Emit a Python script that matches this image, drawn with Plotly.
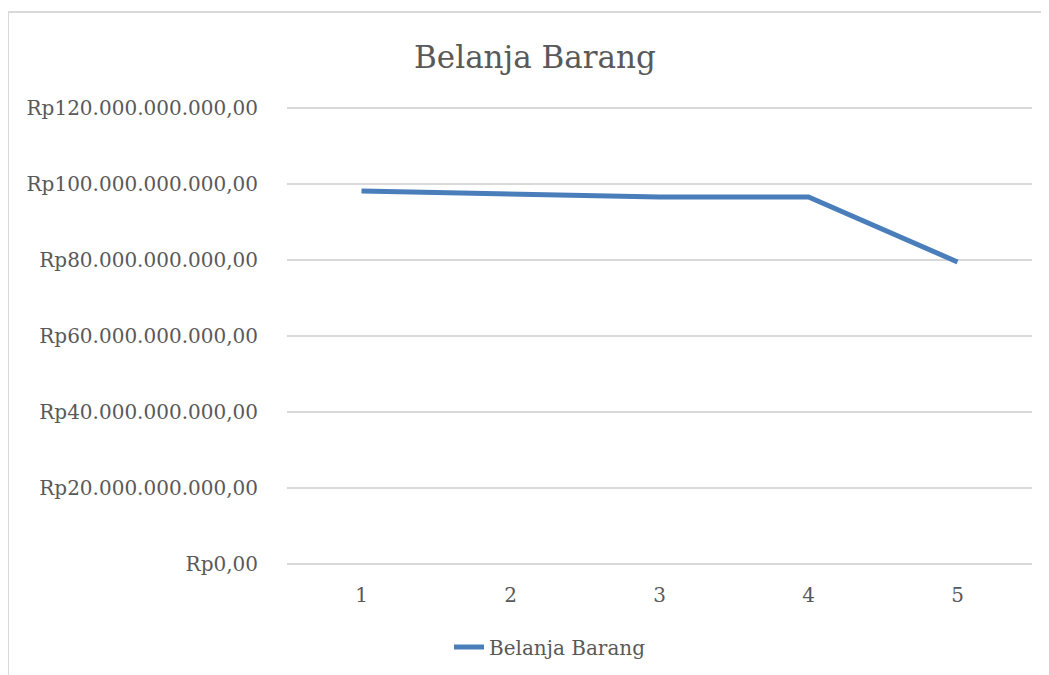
import plotly.graph_objects as go

categories = [1, 2, 3, 4, 5]
belanja_barang = [98.2e9, 97.4e9, 96.6e9, 96.6e9, 79.5e9]
y_tick_vals = [0, 20e9, 40e9, 60e9, 80e9, 100e9, 120e9]
y_tick_text = ["Rp0,00", "Rp20.000.000.000,00", "Rp40.000.000.000,00",
               "Rp60.000.000.000,00", "Rp80.000.000.000,00",
               "Rp100.000.000.000,00", "Rp120.000.000.000,00"]

W, H = 1049, 675
OFF = 8  # page body margin offset
ml, mr, mt, mb = 287 - OFF, 25, 108 - OFF - 1, 675 - (564 - OFF) - 1
FONT = "DejaVu Serif"
GREY = "#595959"

fig = go.Figure()
fig.add_trace(go.Scatter(
    x=categories, y=belanja_barang, mode="lines", name="Belanja Barang",
    line=dict(color="#4a7ebb", width=5),
))

pw = W - ml - mr
ph = H - mt - mb
def px_to_paper_x(px):
    return (px - OFF - ml) / pw
def px_to_paper_y(py):
    return 1 - (py - OFF - mt) / ph

fig.add_shape(type="rect", xref="paper", yref="paper",
              x0=px_to_paper_x(8), x1=px_to_paper_x(1100),
              y0=px_to_paper_y(720), y1=px_to_paper_y(12),
              line=dict(color="#d9d9d9", width=2), fillcolor="rgba(0,0,0,0)",
              layer="below")

fig.update_layout(
    width=W, height=H,
    margin=dict(l=ml, r=mr, t=mt, b=mb),
    paper_bgcolor="white", plot_bgcolor="white",
    font=dict(family=FONT, color=GREY, size=20),
    title=dict(text="Belanja Barang", x=(535 - OFF) / W, xanchor="center",
               y=1 - (57 - OFF) / H, yanchor="middle",
               font=dict(family=FONT, size=31, color=GREY)),
    showlegend=True,
    legend=dict(orientation="h", x=(550 - OFF) / W, xref="container", xanchor="center",
                y=1 - (647 - OFF) / H, yref="container", yanchor="middle",
                font=dict(size=20, color=GREY)),
    xaxis=dict(range=[0.5, 5.5], tickvals=categories,
               ticktext=[str(c) for c in categories],
               showgrid=False, zeroline=False, showline=False,
               ticks="", ticklabelstandoff=16,
               tickfont=dict(size=20, color=GREY)),
    yaxis=dict(range=[-0.3e9, 120.3e9], tickvals=y_tick_vals, ticktext=y_tick_text,
               showgrid=True, gridcolor="#d9d9d9", gridwidth=1.5,
               zeroline=False, showline=False, ticks="",
               ticklabelstandoff=28,
               tickfont=dict(size=20, color=GREY)),
)

fig.write_html("out.html")
